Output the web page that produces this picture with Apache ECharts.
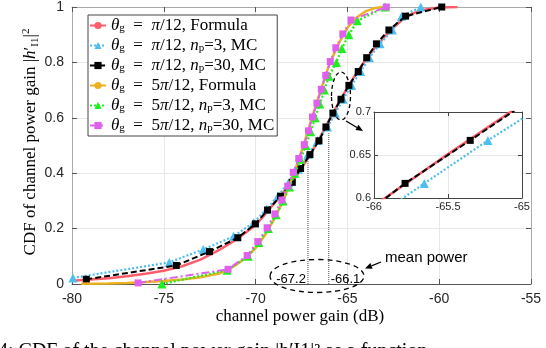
<!DOCTYPE html>
<html>
<head>
<meta charset="utf-8">
<script src="https://cdn.jsdelivr.net/npm/echarts@6/dist/echarts.min.js"></script>
<style>
html, body { margin: 0; padding: 0; background: #fff; }
#chart { width: 546px; height: 348px; }
</style>
</head>
<body>
<div id="chart"></div>
<script>
// axis ticks
const xTicks = [-80, -75, -70, -65, -60, -55]
const yTicks = [0, 0.2, 0.4, 0.6, 0.8, 1]
const insetXTicks = [-66, -65.5, -65]
const insetYTicks = [0.6, 0.65, 0.7]

// theta_g = pi/12, formula
const f1X = [-80, -79, -78, -77, -76, -75, -74, -73, -72, -71, -70, -69.5, -69, -68.5, -68, -67.5, -67, -66.5, -66, -65.5, -65, -64.5, -64, -63.5, -63, -62.5, -62, -61.5, -61, -60, -59]
const f1Y = [0.012, 0.016, 0.021, 0.028, 0.037, 0.048, 0.064, 0.088, 0.122, 0.163, 0.212, 0.25, 0.29, 0.33, 0.37, 0.418, 0.47, 0.528, 0.591, 0.651, 0.709, 0.762, 0.81, 0.853, 0.89, 0.925, 0.955, 0.975, 0.988, 0.998, 1.0]
// theta_g = pi/12, np = 3, MC
const mc3aX = [-79.95, -74.7, -72.85, -71.2, -70.1, -69.4, -68.78, -68.2, -67.68, -67.15, -66.62, -66.08, -65.66, -65.23, -64.77, -64.28, -63.8, -63.22, -62.55, -62.05, -61.0]
const mc3aY = [0.022, 0.078, 0.125, 0.172, 0.222, 0.27, 0.318, 0.366, 0.414, 0.468, 0.518, 0.567, 0.617, 0.667, 0.717, 0.767, 0.817, 0.867, 0.917, 0.967, 1.0]
// theta_g = pi/12, np = 30, MC
const mc30aX = [-79.22, -74.32, -72.51, -70.97, -70.01, -69.35, -68.64, -68.0, -67.55, -67.04, -66.55, -66.17, -65.79, -65.35, -64.92, -64.41, -63.95, -63.42, -62.74, -61.83, -59.86]
const mc30aY = [0.017, 0.067, 0.117, 0.167, 0.217, 0.267, 0.317, 0.367, 0.417, 0.467, 0.517, 0.567, 0.617, 0.667, 0.717, 0.767, 0.817, 0.867, 0.917, 0.967, 1.0]
// theta_g = 5pi/12, formula
const f2X = [-79.5, -78, -77, -76, -75, -74, -73, -72, -71.5, -71, -70.5, -70, -69.5, -69, -68.5, -68, -67.5, -67, -66.5, -66, -65.5, -65, -64.5, -64, -63.5, -63]
const f2Y = [0.001, 0.002, 0.004, 0.007, 0.011, 0.016, 0.024, 0.038, 0.052, 0.072, 0.096, 0.13, 0.175, 0.232, 0.3, 0.385, 0.478, 0.585, 0.69, 0.79, 0.865, 0.925, 0.962, 0.985, 0.996, 1.0]
// theta_g = 5pi/12, np = 3, MC
const mc3bX = [-75.1, -71.55, -70.4, -69.82, -69.3, -68.88, -68.5, -68.15, -67.85, -67.55, -67.26, -67.0, -66.75, -66.5, -66.25, -66.0, -65.6, -65.3, -64.92, -64.46, -62.95]
const mc3bY = [0.0, 0.05, 0.1, 0.15, 0.2, 0.25, 0.3, 0.35, 0.4, 0.45, 0.5, 0.55, 0.6, 0.65, 0.7, 0.75, 0.8, 0.85, 0.9, 0.95, 1.0]
// theta_g = 5pi/12, np = 30, MC
const mc30bX = [-76.4, -71.5, -70.46, -69.88, -69.37, -68.95, -68.57, -68.25, -67.95, -67.65, -67.35, -67.12, -66.9, -66.66, -66.42, -66.18, -65.93, -65.63, -65.25, -64.8, -62.88]
const mc30bY = [0.004, 0.053, 0.103, 0.153, 0.203, 0.253, 0.303, 0.353, 0.403, 0.453, 0.503, 0.553, 0.603, 0.653, 0.703, 0.753, 0.803, 0.853, 0.903, 0.953, 1.0]

// mean power markers
const meanLabels = ['-67.2', '-66.1']
const meanLineX = [-67.15, -66.02]
const meanLineTop = [0.478, 0.544]

const pairs = (xs, ys) => xs.map((x, i) => [x, ys[i]])

const RED = '#ff5c6c'
const BLUE = '#4dbeee'
const BLACK = '#000000'
const ORANGE = '#edb120'
const GREEN = '#1ef01e'
const MAGENTA = '#e060ee'

const tickFont = 'Liberation Sans, Arial, sans-serif'
const serif = 'Liberation Serif, Times New Roman, serif'

const legendRich = {
  t: { fontFamily: serif, fontSize: 17, lineHeight: 17, color: '#000' },
  i: { fontFamily: serif, fontSize: 17, lineHeight: 17, fontStyle: 'italic', color: '#000' },
  s: { fontFamily: serif, fontSize: 11, lineHeight: 8, verticalAlign: 'bottom', color: '#000' }
}
const EQ = '\u2002=\u2002'
const legendText = {
  f1: '{i|θ}{s|g}{t|' + EQ + '}{i|π}{t|/12, Formula}',
  mc3a: '{i|θ}{s|g}{t|' + EQ + '}{i|π}{t|/12, }{i|n}{s|p}{t|=3, MC}',
  mc30a: '{i|θ}{s|g}{t|' + EQ + '}{i|π}{t|/12, }{i|n}{s|p}{t|=30, MC}',
  f2: '{i|θ}{s|g}{t|' + EQ + '5}{i|π}{t|/12, Formula}',
  mc3b: '{i|θ}{s|g}{t|' + EQ + '5}{i|π}{t|/12, }{i|n}{s|p}{t|=3, MC}',
  mc30b: '{i|θ}{s|g}{t|' + EQ + '5}{i|π}{t|/12, }{i|n}{s|p}{t|=30, MC}'
}

function mainAxis (pos, ticks, showLabel, lineColor) {
  const step = ticks[1] - ticks[0]
  return {
    type: 'value',
    position: pos,
    gridIndex: 0,
    min: ticks[0],
    max: ticks[ticks.length - 1],
    interval: step,
    axisLine: { show: true, onZero: false, lineStyle: { color: lineColor, width: 1 } },
    axisTick: { show: true, inside: true, length: 5, lineStyle: { color: '#555' } },
    axisLabel: { show: showLabel, color: '#262626', fontFamily: tickFont, fontSize: 14, margin: 8 },
    splitLine: { show: showLabel, lineStyle: { color: '#e8e8e8', width: 1 } }
  }
}

function insetAxis (pos, ticks, showLabel) {
  const step = ticks[1] - ticks[0]
  return {
    type: 'value',
    position: pos,
    gridIndex: 1,
    min: ticks[0],
    max: ticks[ticks.length - 1],
    interval: step,
    z: 6,
    axisLine: { show: true, onZero: false, lineStyle: { color: '#444', width: 1 } },
    axisTick: { show: true, inside: true, length: 4, lineStyle: { color: '#444' } },
    axisLabel: { show: showLabel, color: '#262626', fontFamily: tickFont, fontSize: 11, margin: 3 },
    splitLine: { show: showLabel, lineStyle: { color: '#e8e8e8', width: 1 } }
  }
}

function lineSeries (name, xs, ys, color, dash, symbol, width, grid, z) {
  return {
    name: name,
    type: 'line',
    xAxisIndex: grid === 0 ? 0 : 2,
    yAxisIndex: grid === 0 ? 0 : 2,
    data: pairs(xs, ys),
    symbol: symbol || 'none',
    symbolSize: symbol === 'triangle' ? 9 : 7,
    showSymbol: !!symbol,
    clip: true,
    z: z,
    itemStyle: { color: color },
    lineStyle: { color: color, width: width, type: dash },
    emphasis: { disabled: true },
    animation: false
  }
}

const series = [
  lineSeries('f1', f1X, f1Y, RED, 'solid', null, 2.5, 0, 2),
  lineSeries('mc3a', mc3aX, mc3aY, BLUE, [2, 2], 'triangle', 2.2, 0, 3),
  lineSeries('mc30a', mc30aX, mc30aY, BLACK, [6, 3], 'rect', 2, 0, 4),
  lineSeries('f2', f2X, f2Y, ORANGE, 'solid', null, 2.5, 0, 5),
  lineSeries('mc3b', mc3bX, mc3bY, GREEN, [2, 2], 'triangle', 2.2, 0, 6),
  lineSeries('mc30b', mc30bX, mc30bY, MAGENTA, [8, 3, 2, 3], 'rect', 2, 0, 7),
  // inset copies
  lineSeries('f1', f1X, f1Y, RED, 'solid', null, 2.5, 1, 10),
  lineSeries('mc3a', mc3aX, mc3aY, BLUE, [2, 2], 'triangle', 2.2, 1, 11),
  lineSeries('mc30a', mc30aX, mc30aY, BLACK, [6, 3], 'rect', 2, 1, 12)
]

meanLineX.forEach((x, i) => {
  series.push({
    type: 'line',
    xAxisIndex: 0,
    yAxisIndex: 0,
    data: [[x, 0], [x, meanLineTop[i]]],
    symbol: 'none',
    z: 1,
    lineStyle: { color: '#777', width: 1.3, type: [1, 1] },
    emphasis: { disabled: true },
    animation: false
  })
})

const chart = echarts.init(document.getElementById('chart'))
chart.setOption({
  animation: false,
  backgroundColor: '#fff',
  grid: [
    { left: 72, right: 15, top: 7, bottom: 64 },
    { left: 374, top: 112, width: 148, height: 86, show: true, backgroundColor: '#fff', borderWidth: 0, z: 5 }
  ],
  xAxis: [
    mainAxis('bottom', xTicks, true, '#555'),
    mainAxis('top', xTicks, false, '#aaa'),
    insetAxis('bottom', insetXTicks, true),
    insetAxis('top', insetXTicks, false)
  ],
  yAxis: [
    mainAxis('left', yTicks, true, '#aaa'),
    mainAxis('right', yTicks, false, '#aaa'),
    insetAxis('left', insetYTicks, true),
    insetAxis('right', insetYTicks, false)
  ],
  legend: {
    data: ['f1', 'mc3a', 'mc30a', 'f2', 'mc3b', 'mc30b'],
    orient: 'vertical',
    left: 88,
    top: 15,
    padding: [2, 3, 2, 1],
    itemGap: 3,
    itemWidth: 16,
    itemHeight: 9,
    backgroundColor: '#fff',
    borderColor: '#444',
    borderWidth: 1,
    selectedMode: false,
    z: 20,
    formatter: name => legendText[name],
    textStyle: { rich: legendRich }
  },
  series: series
})

// annotations
function arrow (x1, y1, x2, y2) {
  const a = Math.atan2(y2 - y1, x2 - x1)
  const L = 7, W = 3
  const bx = x2 - L * Math.cos(a), by = y2 - L * Math.sin(a)
  return [
    { type: 'line', z: 100, shape: { x1: x1, y1: y1, x2: bx, y2: by }, style: { stroke: '#000', lineWidth: 1.3 } },
    { type: 'polygon', z: 100, shape: { points: [[x2, y2], [bx + W * Math.sin(a), by - W * Math.cos(a)], [bx - W * Math.sin(a), by + W * Math.cos(a)]] }, style: { fill: '#000' } }
  ]
}

const labelEls = meanLineX.map((x, i) => {
  const p = chart.convertToPixel({ gridIndex: 0 }, [x, 0])
  return {
    type: 'text', z: 100,
    x: i === 0 ? p[0] - 2 : p[0] + 2,
    y: p[1] - 5,
    style: { text: meanLabels[i], font: '13px ' + tickFont, fill: '#000', align: i === 0 ? 'right' : 'left', verticalAlign: 'middle' }
  }
})

chart.setOption({
  graphic: [
    // y axis title
    {
      type: 'text', z: 100, x: 31, y: 142, rotation: Math.PI / 2,
      style: {
        text: '{t|CDF of channel power gain }{t||}{i|h}{t|′}{s|I1}{t||}{p|2}',
        align: 'center', verticalAlign: 'middle',
        rich: {
          t: { fontFamily: serif, fontSize: 17, lineHeight: 20, fill: '#000' },
          i: { fontFamily: serif, fontSize: 17, lineHeight: 20, fontStyle: 'italic', fill: '#000' },
          s: { fontFamily: serif, fontSize: 11, lineHeight: 9, verticalAlign: 'bottom', fill: '#000' },
          p: { fontFamily: serif, fontSize: 11, lineHeight: 9, verticalAlign: 'top', fill: '#000' }
        }
      }
    },
    // x axis title
    {
      type: 'text', z: 100, x: 300, y: 317,
      style: { text: 'channel power gain (dB)', font: '17px ' + serif, fill: '#000', align: 'center', verticalAlign: 'middle' }
    },
    // clipped caption
    {
      type: 'text', z: 100, x: -2, y: 342,
      style: { text: '4: CDF of the channel power gain |h′I1|² as a function', font: '20px ' + serif, fill: '#000', align: 'left', verticalAlign: 'top' }
    },
    // ellipse round the curve + pointer to inset
    { type: 'ellipse', z: 100, shape: { cx: 341, cy: 96, rx: 9.5, ry: 24 }, style: { fill: 'none', stroke: '#000', lineWidth: 1.3, lineDash: [4, 3] } },
    ...arrow(346, 121, 363, 131),
    // mean power ellipse + text
    { type: 'ellipse', z: 100, shape: { cx: 317, cy: 276, rx: 47, ry: 16.5 }, style: { fill: 'none', stroke: '#000', lineWidth: 1.3, lineDash: [5, 4] } },
    { type: 'text', z: 100, x: 385, y: 258, style: { text: 'mean power', font: '15px ' + tickFont, fill: '#000', verticalAlign: 'middle' } },
    ...arrow(381, 262, 365, 268.5),
    ...labelEls
  ]
})
</script>
</body>
</html>
